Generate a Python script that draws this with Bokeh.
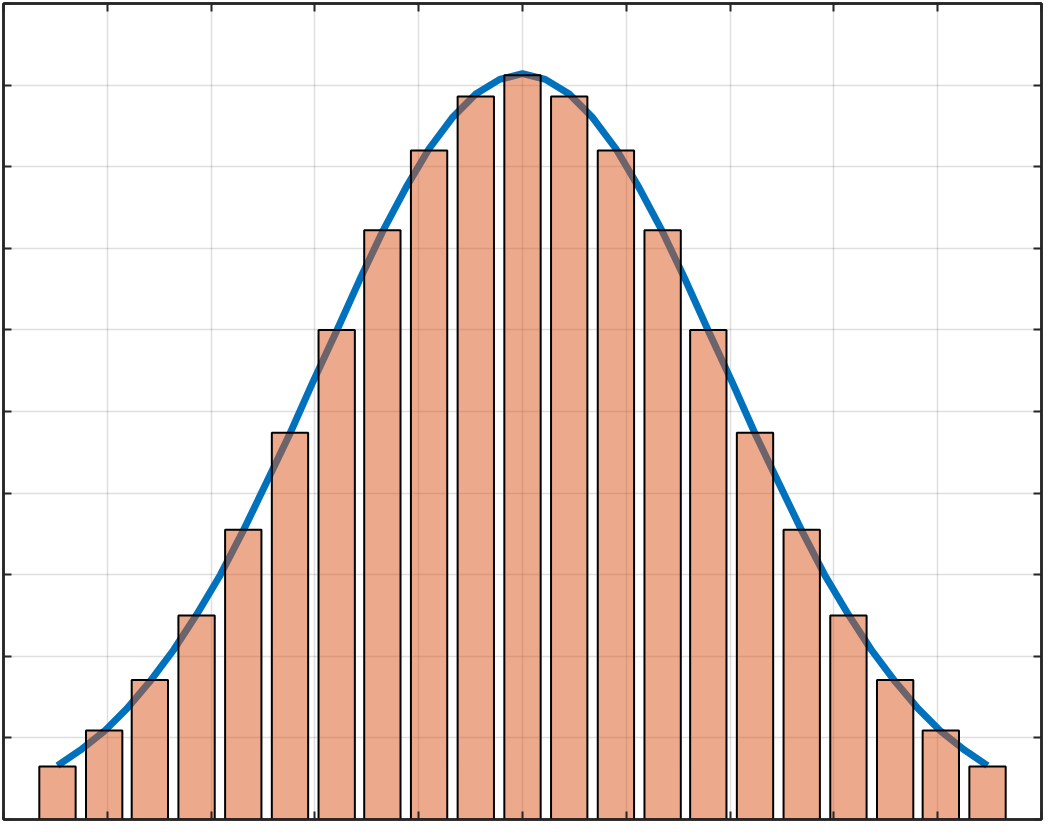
from bokeh.plotting import figure
from bokeh.models import Range1d, FixedTicker, LinearAxis
from bokeh.embed import file_html
from bokeh.resources import INLINE

# bin centres and bar heights
bin_centers = [-4.48, -4.03, -3.59, -3.14, -2.69, -2.24, -1.79, -1.35, -0.90, -0.45, 0.0,
               0.45, 0.90, 1.35, 1.79, 2.24, 2.69, 3.14, 3.59, 4.03, 4.48]
bar_heights = [0.65, 1.09, 1.71, 2.50, 3.55, 4.74, 6.00, 7.22, 8.20, 8.86, 9.12,
               8.86, 8.20, 7.22, 6.00, 4.74, 3.55, 2.50, 1.71, 1.09, 0.65]

# fitted curve
curve_x = [-4.48, -4.26, -4.03, -3.81, -3.59, -3.36, -3.14, -2.91, -2.69, -2.47, -2.24,
           -2.02, -1.79, -1.57, -1.35, -1.12, -0.90, -0.67, -0.45, -0.22, 0.0,
           0.22, 0.45, 0.67, 0.90, 1.12, 1.35, 1.57, 1.79, 2.02, 2.24,
           2.47, 2.69, 2.91, 3.14, 3.36, 3.59, 3.81, 4.03, 4.26, 4.48]
curve_y = [0.66, 0.85, 1.08, 1.36, 1.69, 2.08, 2.51, 3.00, 3.54, 4.12, 4.73,
           5.36, 5.99, 6.61, 7.20, 7.75, 8.22, 8.61, 8.89, 9.07, 9.14,
           9.07, 8.89, 8.61, 8.22, 7.75, 7.20, 6.61, 5.99, 5.36, 4.73,
           4.12, 3.54, 3.00, 2.51, 2.08, 1.69, 1.36, 1.08, 0.85, 0.66]

x_ticks = [-5, -4, -3, -2, -1, 0, 1, 2, 3, 4, 5]
y_ticks = [0, 1, 2, 3, 4, 5, 6, 7, 8, 9, 10]

p = figure(width=1044, height=822, output_backend="svg", toolbar_location=None,
           x_range=Range1d(-5, 5), y_range=Range1d(0, 10), min_border=3,
           x_axis_location=None, y_axis_location=None)
p.outline_line_color = "#262626"
p.outline_line_width = 2.5
p.background_fill_color = "white"
p.border_fill_color = "white"

xt = FixedTicker(ticks=x_ticks, minor_ticks=[])
yt = FixedTicker(ticks=y_ticks, minor_ticks=[])

for loc, tick in (("below", xt), ("above", xt), ("left", yt), ("right", yt)):
    ax = LinearAxis(ticker=tick)
    ax.major_tick_in = 8
    ax.major_tick_out = 0
    ax.major_tick_line_color = "#262626"
    ax.major_tick_line_width = 2
    ax.minor_tick_line_color = None
    ax.axis_line_color = "#262626"
    ax.axis_line_width = 2.5
    ax.major_label_text_font_size = "0px"
    ax.major_label_standoff = 0
    p.add_layout(ax, loc)

p.xgrid.ticker = xt
p.ygrid.ticker = yt
p.grid.grid_line_color = "#262626"
p.grid.grid_line_alpha = 0.15
p.grid.grid_line_width = 1.5

p.line(curve_x, curve_y, line_color="#0072BD", line_width=7)
p.vbar(x=bin_centers, top=bar_heights, bottom=0, width=0.35,
       fill_color="#D95319", fill_alpha=0.5, line_color="black", line_width=2)

open("out.html", "w").write(file_html(p, INLINE))
